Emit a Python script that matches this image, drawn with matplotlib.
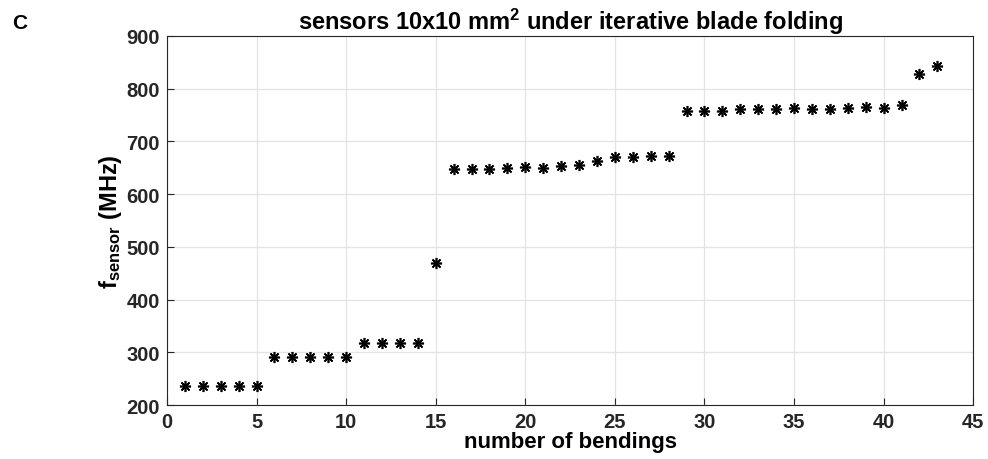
import matplotlib
matplotlib.use('Agg')
import matplotlib.pyplot as plt

plt.rcParams['font.family'] = ['Liberation Sans', 'DejaVu Sans']
plt.rcParams['font.weight'] = 'bold'
plt.rcParams['mathtext.fontset'] = 'custom'
plt.rcParams['mathtext.rm'] = 'Liberation Sans:bold'
plt.rcParams['mathtext.bf'] = 'Liberation Sans:bold'
plt.rcParams['mathtext.it'] = 'Liberation Sans:bold'

# data
bendings = list(range(1, 44))
f_sensor = [236, 236, 236, 236, 236,
            292, 292, 292, 292, 292,
            318, 318, 318, 318,
            469,
            648, 648, 648, 650, 652, 650, 653, 655, 663, 671, 671, 673, 673,
            758, 758, 758, 762, 762, 762, 764, 761, 761, 763, 765, 764, 769,
            827, 843]
x_ticks = [0, 5, 10, 15, 20, 25, 30, 35, 40, 45]
y_ticks = [200, 300, 400, 500, 600, 700, 800, 900]

fig = plt.figure(figsize=(9.88, 4.6), dpi=100)
ax = fig.add_axes([0.169, 0.117, 0.816, 0.803])

ax.plot(bendings, f_sensor, linestyle='none', marker=(8, 2, 0),
        markersize=8, markeredgewidth=1.2, color='black')

ax.set_xlim(0, 45)
ax.set_ylim(200, 900)
ax.set_xticks(x_ticks)
ax.set_yticks(y_ticks)
ax.grid(True, color='#e3e3e3', linewidth=0.9)
ax.set_axisbelow(True)
ax.tick_params(direction='in', length=5, width=0.8, labelsize=14.5,
               colors='#262626', pad=5)
for s in ax.spines.values():
    s.set_color('#262626')
    s.set_linewidth(0.8)

ax.set_xlabel('number of bendings', fontsize=16, fontweight='bold', labelpad=0)
ax.set_ylabel(r'$\mathregular{f_{sensor}}$ (MHz)', fontsize=17, fontweight='bold', labelpad=2)
ax.set_title(r'sensors 10x10 mm$\mathregular{^2}$ under iterative blade folding',
             fontsize=17, fontweight='bold', pad=4)
fig.text(0.012, 0.948, 'C', fontsize=15, fontweight='bold', ha='left', va='center')

fig.savefig('out.png', dpi=100)
